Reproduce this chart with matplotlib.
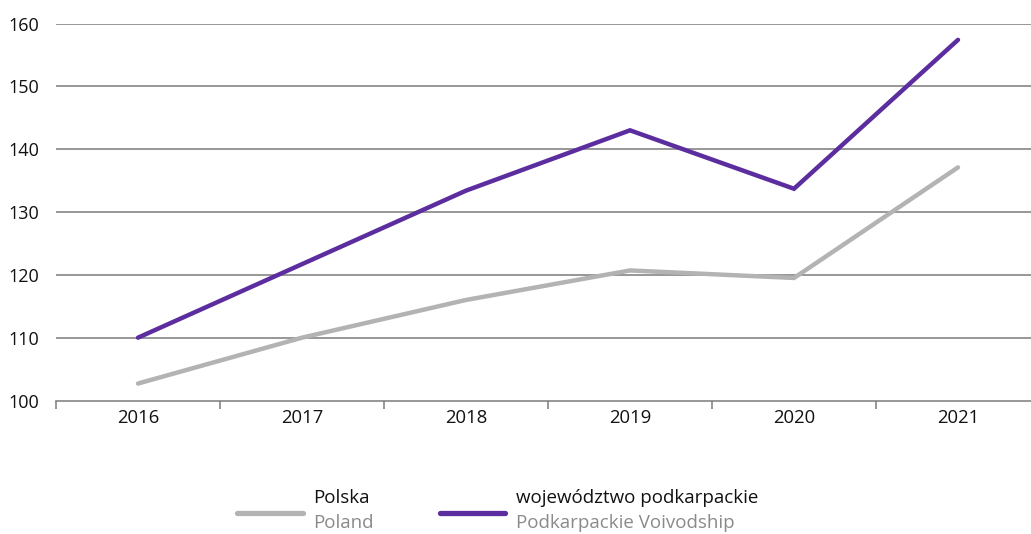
import matplotlib
matplotlib.use("Agg")
import matplotlib.pyplot as plt
from matplotlib.lines import Line2D
import numpy as np

plt.rcParams['font.family'] = ['Open Sans', 'DejaVu Sans']

years = ["2016", "2017", "2018", "2019", "2020", "2021"]
polska = [102.7, 110.0, 116.0, 120.7, 119.5, 137.1]
podkarpackie = [110.0, 121.7, 133.4, 143.0, 133.7, 157.4]
y_ticks = [100, 110, 120, 130, 140, 150, 160]

gray = "#b3b3b3"
purple = "#5c2d9e"
grid_c = "#7a7a7a"
text_c = "#111111"

W, H = 1031, 534
fig = plt.figure(figsize=(W / 100, H / 100), dpi=100)
left, right, top, bottom = 56, 1040, 23.5, 400.5
ax = fig.add_axes([left / W, 1 - bottom / H, (right - left) / W, (bottom - top) / H])

x = np.arange(len(years))
ax.plot(x, polska, color=gray, lw=3.2, solid_capstyle='round', solid_joinstyle='miter', zorder=3)
ax.plot(x, podkarpackie, color=purple, lw=3.2, solid_capstyle='round', solid_joinstyle='miter', zorder=4)

ax.set_xlim(-0.5, len(years) - 0.5)
ax.set_ylim(100, 160)
ax.set_yticks(y_ticks)
ax.set_yticklabels([str(v) for v in y_ticks], fontsize=13, color=text_c)
ax.set_xticks(x)
ax.set_xticklabels(years, fontsize=13.3, color=text_c)
ax.set_xticks(np.arange(-0.5, len(years), 1), minor=True)

ax.tick_params(axis='y', length=0, pad=12)
ax.tick_params(axis='x', which='major', length=0, pad=6)
ax.tick_params(axis='x', which='minor', length=6, width=1.1, color=grid_c)

for v in y_ticks[1:]:
    ax.axhline(v, color=grid_c, lw=1.1, zorder=1)

for s in ['top', 'right', 'left']:
    ax.spines[s].set_visible(False)
ax.spines['bottom'].set_color(grid_c)
ax.spines['bottom'].set_linewidth(1.1)

# legend drawn below the plot area
def fx(px):
    return px / W

def fy(py):
    return 1 - py / H

entries = [
    (237, 303, 313, gray, "Polska", "Poland"),
    (440, 505, 516, purple, "województwo podkarpackie", "Podkarpackie Voivodship"),
]
for x0, x1, tx, col, pl, en in entries:
    fig.add_artist(Line2D([fx(x0), fx(x1)], [fy(513), fy(513)], transform=fig.transFigure,
                          color=col, lw=3.8, solid_capstyle='round'))
    fig.text(fx(tx), fy(498), pl, fontsize=13.5, color=text_c, va='center', ha='left')
    fig.text(fx(tx), fy(523), en, fontsize=13.5, color="#8a8a8a", va='center', ha='left')

fig.savefig("out.png", dpi=100)
